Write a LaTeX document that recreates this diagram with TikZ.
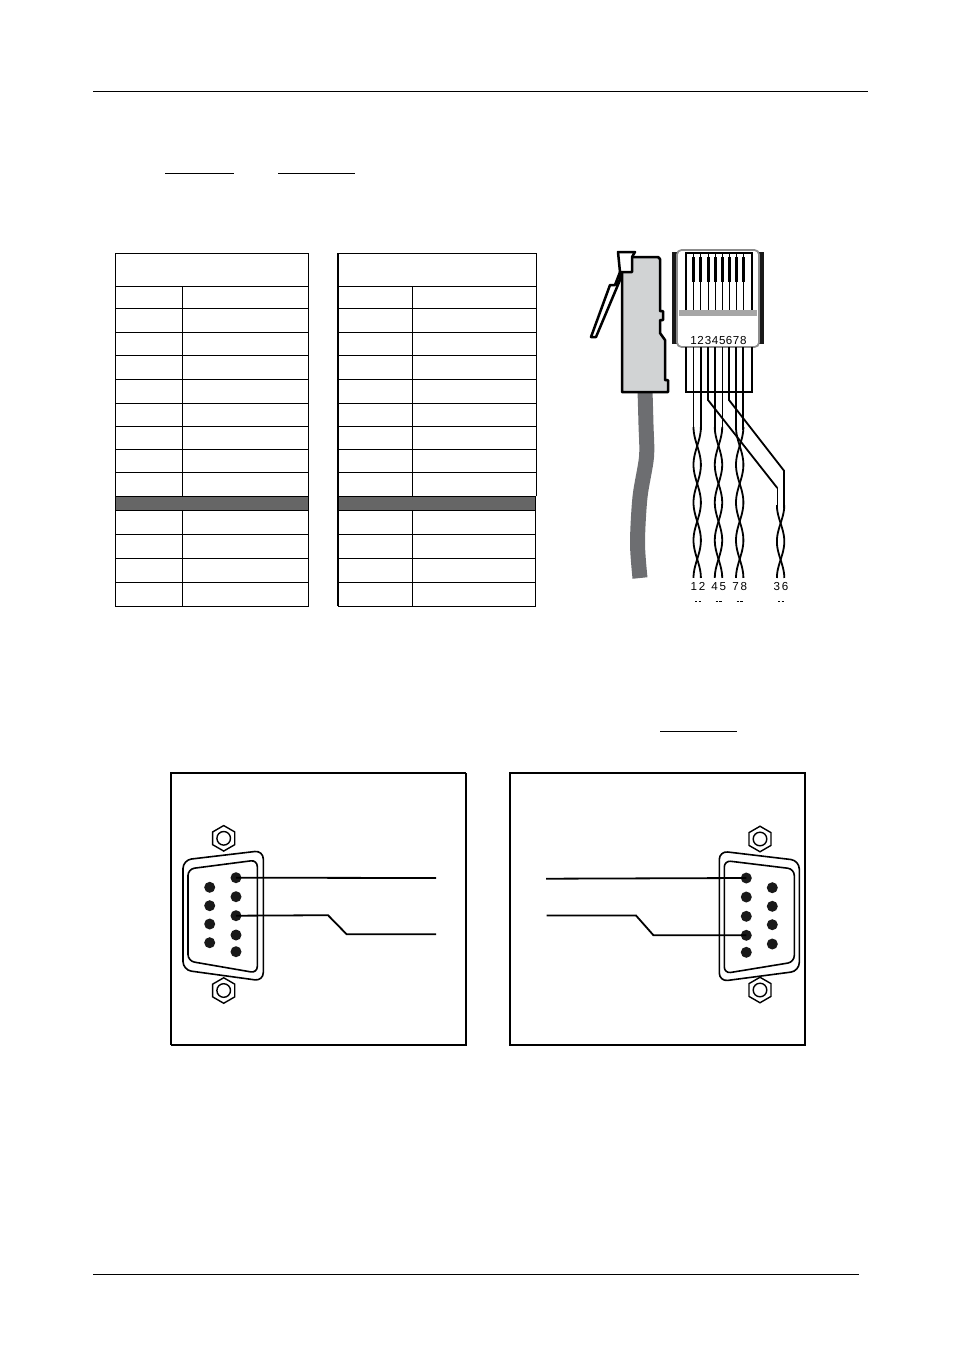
\documentclass[tikz,border=0pt]{standalone}
\usepackage{fontspec}
\setmainfont{Liberation Sans}
\usetikzlibrary{calc, shapes.geometric}
\tikzset{
  rule/.style={line width=0.2mm},
  cell/.style={line width=0.2mm},
  pairwire/.style={line width=0.36mm},
  thinwire/.style={line width=0.2mm},
  panel/.style={line width=0.25mm},
  plugline/.style={line width=0.5mm, line join=round},
  pin/.style={circle, fill=black!90, inner sep=0pt, minimum size=2.2mm},
  nut/.style={regular polygon, regular polygon sides=6, shape border rotate=30, draw, line width=0.28mm, inner sep=0pt, minimum size=5.1mm},
  digit/.style={inner sep=0pt, anchor=base, font=\fontsize{6.6pt}{7pt}\selectfont},
  shell/.style={line width=0.32mm}
}
\definecolor{plugbody}{HTML}{D1D3D4}
\definecolor{cablegray}{HTML}{6D6E71}
\begin{document}
\begin{tikzpicture}[x=0.2mm, y=-0.2mm]
  \useasboundingbox (0,0) rectangle (954,1355);
  \draw[rule] (93,91) -- (868,91);
  \draw[rule] (93,1274) -- (859,1274);
  \draw[rule] (165,173) -- (234,173);
  \draw[rule] (278,173) -- (355,173);
  \draw[rule] (660,731) -- (737,731);

  % pin table
  \fill[black!60] (115.7,496.3) rectangle (308.3,510.3);
  \fill[black!60] (338,496.3) rectangle (535.4,510.3);
  \draw[cell] (115.7,253.3) rectangle (308.3,606);
  \draw[cell] (338,253.3) -- (536.3,253.3) -- (536.3,496.3);
  \draw[cell] (536.3,496.3) -- (535.4,496.3) -- (535.4,606) -- (338,606);
  \draw[line width=0.45mm] (337.7,253.3) -- (337.7,606.2);
  \foreach \y in {286.3,308.3,332.3,355.3,379,403,426,449,472.3,496.3,510.3,534.3,558.3,582}{
    \draw[cell] (115.7,\y) -- (308.3,\y);
    \draw[cell] (338,\y) -- (535.8,\y);
  }
  \draw[cell] (182.3,286.3) -- (182.3,496.3);
  \draw[cell] (182.3,510.3) -- (182.3,606);
  \draw[cell] (412.3,286.3) -- (412.3,496.3);
  \draw[cell] (412.3,510.3) -- (412.3,606);

  % side view of plug
  \draw[cablegray, line width=3mm] plot[smooth] coordinates {(645,390) (646,425) (646.5,457) (640,497) (637.5,543) (640,578)};
  \draw[plugline, fill=plugbody] (622,262) -- (622,257) -- (658,257) -- (660,259) -- (660,311) -- (663,311) -- (663,320) -- (660,320) -- (660,333) -- (665,340) -- (665,380) -- (668,380) -- (668,392) -- (622,392) -- cycle;
  \draw[plugline, fill=white] (618,252) -- (635,252) -- (632,257) -- (632,272) -- (620,272) -- cycle;
  \draw[plugline, fill=white] (620,272) -- (615,285) -- (610,285) -- (591,337) -- (596,337) -- (620,280) -- cycle;

  % front view of plug
  \fill[black!90] (672,252) rectangle (677,344);
  \fill[black!90] (759,252) rectangle (764,344);
  \draw[black!45, line width=0.35mm, fill=white, rounded corners=0.9mm] (677,250) rectangle (759,347);
  \fill[black!35] (679,310) rectangle (757,316);
  \draw[pairwire] (686,310) -- (686,253) -- (752,253) -- (752,310);
  \draw[pairwire] (686,347) -- (686,392) -- (752,392) -- (752,347);
  \foreach \n/\x in {1/693.5,2/700.7,3/708,4/715,5/722.3,6/729,7/736,8/743.3}{
    \draw[thinwire] (\x,253) -- (\x,310);
    \draw[line width=0.6mm] (\x,257) -- (\x,282);
    \node[digit] (num\n) at (\x,344) {\n};
  }

  % wires to the twisted pairs
  \foreach \x/\w in {693.5/0.2mm,700.8/0.36mm,714.8/0.36mm,722.3/0.2mm,736/0.36mm,743.3/0.36mm}{
    \draw[line width=\w] (\x,347) -- (\x,430);
  }
  \draw[pairwire] (708,347) -- (708,400) -- (777.3,488);
  \draw[thinwire] (777.3,488) -- (777.3,508);
  \draw[pairwire] (729,347) -- (729,400) -- (784,470.7) -- (784,508);
  \foreach \c/\ya/\n in {697.2/427/4,718.5/427/4,739.7/427/4,780.6/505/2}{
    \draw[pairwire] plot[variable=\t, domain=0:1, samples=61] ({\c-3.7*cos(180*\n*\t)},{\ya+(578-\ya)*\t});
    \draw[pairwire] plot[variable=\t, domain=0:1, samples=61] ({\c+3.7*cos(180*\n*\t)},{\ya+(578-\ya)*\t});
  }
  \foreach \nm/\lab/\x in {a/1\,2/698,b/4\,5/718.7,c/7\,8/739.7,d/3\,6/781}{
    \node[digit] (pair\nm) at (\x,590) {\lab};
    \draw[thinwire] ($(pair\nm.base)+(-3,11)$) -- ($(pair\nm.base)+(-0.7,11)$);
    \draw[thinwire] ($(pair\nm.base)+(0.7,11)$) -- ($(pair\nm.base)+(3,11)$);
  }

  % left panel
  \draw[panel] (466,773) -- (171,773) -- (171,1045);
  \draw[line width=0.42mm] (171,1045) -- (466,1045) -- (466,773);
  \draw[shell, rounded corners=1.7mm] (183,860) -- (263.3,850.5) -- (263.3,981) -- (183,970) -- cycle;
  \draw[shell, rounded corners=1.3mm] (188,869) -- (257.3,860) -- (257.3,973) -- (188,961) -- cycle;
  \node[nut] (lnuta) at (223.7,838.3) {};
  \node[nut] (lnutb) at (223.7,990.5) {};
  \draw[line width=0.28mm] (lnuta) circle (6.8);
  \draw[line width=0.28mm] (lnutb) circle (6.8);
  \foreach \n/\y in {1/877.7,2/896.7,3/915.7,4/935,5/951.7}{
    \node[pin] (lp\n) at (236,\y) {};
  }
  \foreach \n/\y in {6/887.3,7/905.7,8/924,9/942.7}{
    \node[pin] (lp\n) at (209.7,\y) {};
  }
  \coordinate (lenda) at (436,878);
  \coordinate (lendb) at (436,934.3);
  \draw[pairwire] (lp1.center) -- (lenda);
  \draw[pairwire] (lp3.center) -- (328,915.2) -- (346.7,934.3) -- (lendb);

  % right panel
  \draw[panel] (510,773) rectangle (805,1045);
  \draw[shell, rounded corners=1.7mm] (719.3,851) -- (799.3,860.5) -- (799.3,971) -- (719.3,981.5) -- cycle;
  \draw[shell, rounded corners=1.3mm] (724.3,860.5) -- (794.3,869) -- (794.3,962) -- (724.3,973.5) -- cycle;
  \node[nut] (rnuta) at (760,839) {};
  \node[nut] (rnutb) at (760,990) {};
  \draw[line width=0.28mm] (rnuta) circle (6.8);
  \draw[line width=0.28mm] (rnutb) circle (6.8);
  \foreach \n/\y in {1/878,2/897,3/916.3,4/935.3,5/952.3}{
    \node[pin] (rp\n) at (746.3,\y) {};
  }
  \foreach \n/\y in {6/887.7,7/906.3,8/924.7,9/944}{
    \node[pin] (rp\n) at (772.3,\y) {};
  }
  \coordinate (renda) at (546,878.7);
  \coordinate (rendb) at (546.5,915.5);
  \draw[pairwire] (renda) -- (rp1.center);
  \draw[pairwire] (rendb) -- (636,915.5) -- (653.5,935.3) -- (rp4.center);
\end{tikzpicture}
\end{document}
